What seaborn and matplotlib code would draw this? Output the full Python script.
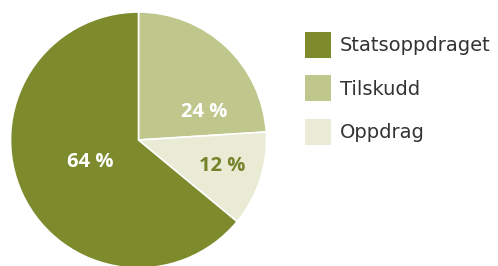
import matplotlib
matplotlib.use('Agg')
import matplotlib.pyplot as plt
import seaborn as sns

labels = ['Tilskudd', 'Oppdrag', 'Statsoppdraget']
shares = [24, 12, 64]
colors = ['#bfc78d', '#e9ebd5', '#7d8b2d']
legend_order = ['Statsoppdraget', 'Tilskudd', 'Oppdrag']

sns.set_style('white')
plt.rcParams['font.family'] = ['Open Sans', 'DejaVu Sans']

fig = plt.figure(figsize=(4.98, 2.66), dpi=100)
cx, cy, r = 138.5, 140, 128
ax = fig.add_axes([(cx - r) / 498, (266 - cy - r) / 266, 2 * r / 498, 2 * r / 266])

wedges, texts, autotexts = ax.pie(
    shares, colors=colors, startangle=90, counterclock=False,
    autopct=lambda p: f'{p:.0f} %',
    wedgeprops=dict(edgecolor='white', linewidth=1.2),
    textprops=dict(fontsize=14.5, color='white', fontweight='bold'),
)
ax.set_xlim(-1, 1)
ax.set_ylim(-1, 1)

# label placement as in the original
pos = {'Tilskudd': (0.51, 0.22), 'Oppdrag': (0.65, -0.20), 'Statsoppdraget': (-0.38, -0.17)}
for lab, t in zip(labels, autotexts):
    t.set_position(pos[lab])
    t.set_ha('center')
    t.set_va('center')
autotexts[1].set_color('#75832a')

handle_map = dict(zip(labels, wedges))
leg = fig.legend([handle_map[l] for l in legend_order], legend_order,
                 loc='upper left', bbox_to_anchor=(305 / 498, 1 - 32 / 266),
                 frameon=False, borderpad=0, borderaxespad=0,
                 prop=dict(family='DejaVu Sans', size=14),
                 handlelength=1.34, handleheight=1.68,
                 labelspacing=0.89, handletextpad=0.45, labelcolor='#333333')
for h in leg.legend_handles:
    h.set_edgecolor('none')

fig.savefig('out.png', dpi=100)
